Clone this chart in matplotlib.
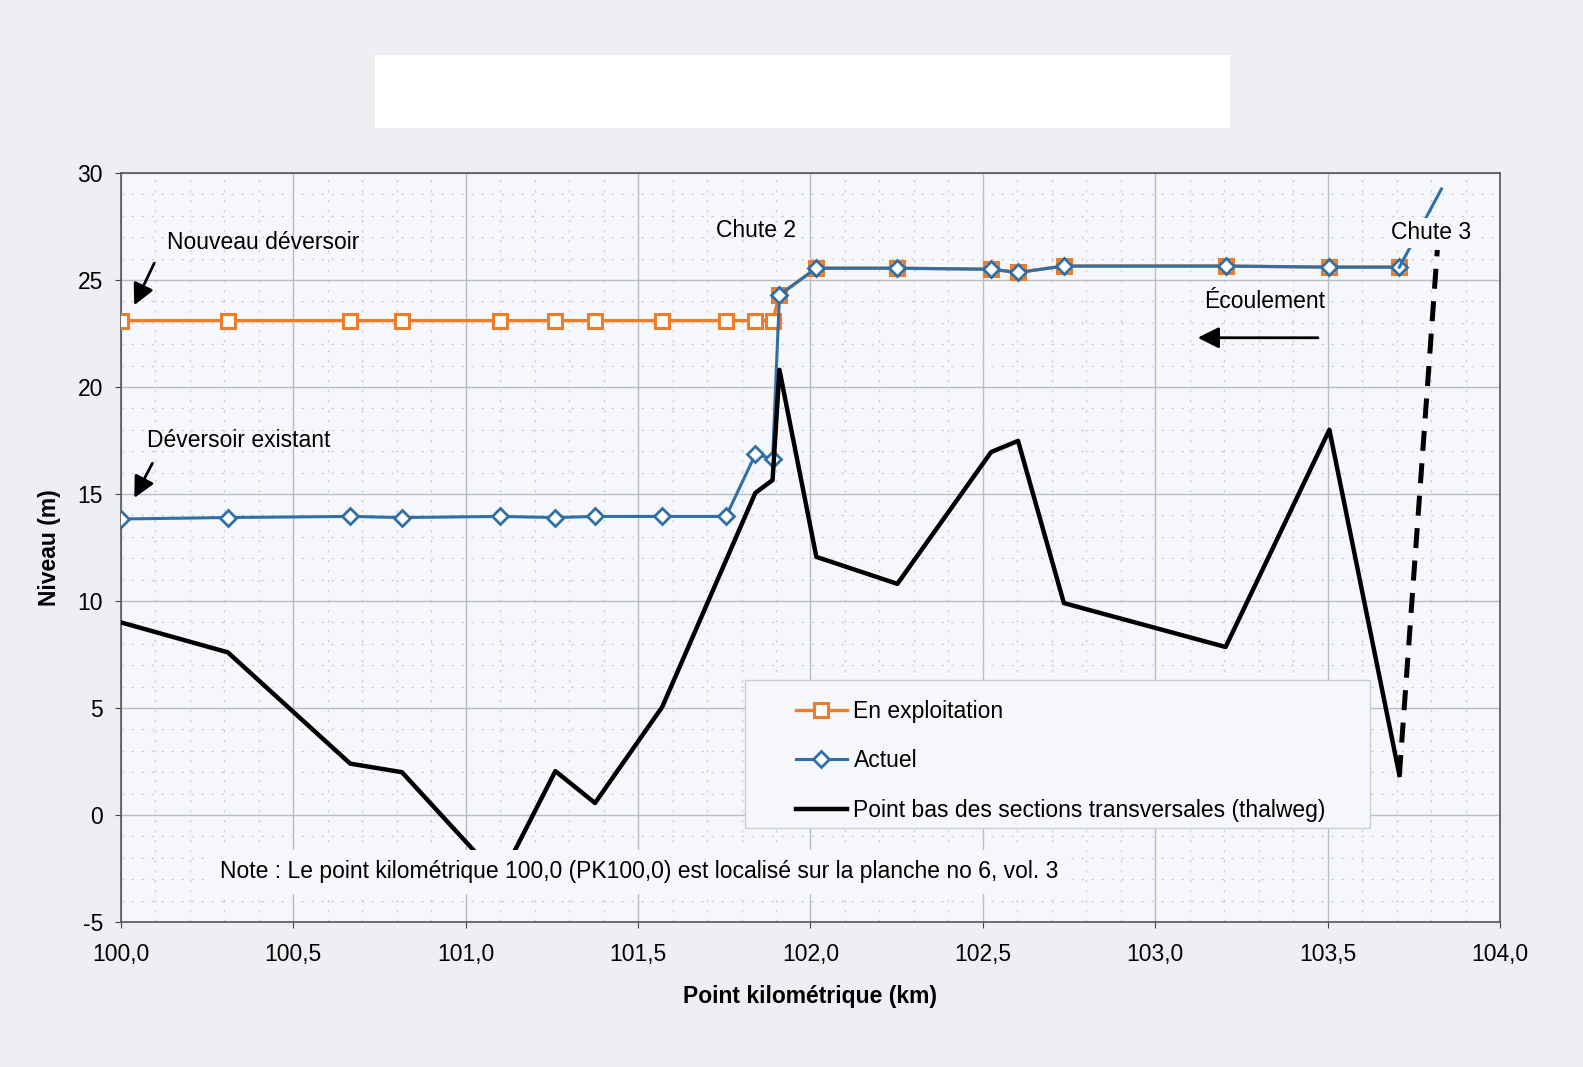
import matplotlib
matplotlib.use('Agg')
import matplotlib.pyplot as plt
from matplotlib.patches import Rectangle
from matplotlib.ticker import MultipleLocator, FuncFormatter

plt.rcParams['font.family'] = ['Liberation Sans', 'DejaVu Sans']
plt.rcParams['axes.unicode_minus'] = False

# Points de section (km)
pk_sections = [100.0, 100.31, 100.665, 100.815, 101.1, 101.26, 101.375, 101.57,
               101.755, 101.84, 101.89, 101.91, 102.017, 102.252, 102.524,
               102.602, 102.735, 103.204, 103.505, 103.708]

# Niveau en exploitation (nouveau déversoir)
niveau_exploitation = [23.1, 23.1, 23.1, 23.1, 23.1, 23.1, 23.1, 23.1,
                       23.1, 23.1, 23.1, 24.3, 25.55, 25.55, 25.5,
                       25.35, 25.65, 25.65, 25.6, 25.6]

# Niveau actuel (déversoir existant)
niveau_actuel = [13.83, 13.9, 13.95, 13.9, 13.95, 13.9, 13.95, 13.95,
                 13.95, 16.85, 16.65, 24.3, 25.55, 25.55, 25.5,
                 25.35, 25.65, 25.65, 25.6, 25.6]

# prolongement vers la chute 3 (sans marqueur)
pk_actuel_fin = [103.708, 103.83]
niveau_actuel_fin = [25.6, 29.25]

# Thalweg
pk_thalweg = [100.0, 100.31, 100.665, 100.815, 101.1, 101.26, 101.375, 101.57,
              101.84, 101.89, 101.91, 102.017, 102.252, 102.524, 102.602,
              102.735, 103.204, 103.505, 103.708]
niveau_thalweg = [9.0, 7.6, 2.4, 2.0, -3.0, 2.05, 0.56, 5.05,
                  15.05, 15.65, 20.8, 12.06, 10.8, 16.96, 17.48,
                  9.9, 7.85, 18.0, 1.87]

# Chute 3 (pointillé)
pk_chute3 = [103.708, 103.818]
niveau_chute3 = [1.87, 26.4]

orange = '#ee7d2b'
bleu = '#2f6fa6'
fond = '#f6f7fa'
fs = 16.5

fig = plt.figure(figsize=(15.83, 10.67), dpi=100, facecolor='#eeeff3')
ax = fig.add_axes([0.0764, 0.1359, 0.8712, 0.702])
ax.set_facecolor(fond)

# zone blanche du titre masqué
fig.patches.append(Rectangle((375 / 1583, 1 - 128 / 1067), 855 / 1583, 73 / 1067,
                             transform=fig.transFigure, facecolor='white',
                             edgecolor='none', zorder=0))

ax.set_xlim(100, 104)
ax.set_ylim(-5, 30)
ax.xaxis.set_major_locator(MultipleLocator(0.5))
ax.xaxis.set_minor_locator(MultipleLocator(0.1))
ax.yaxis.set_major_locator(MultipleLocator(5))
ax.yaxis.set_minor_locator(MultipleLocator(1))
ax.xaxis.set_major_formatter(FuncFormatter(lambda v, p: f"{v:.1f}".replace('.', ',')))
ax.yaxis.set_major_formatter(FuncFormatter(lambda v, p: f"{v:.0f}"))
ax.grid(True, which='major', color='#b8bcc4', linewidth=1.0, linestyle='-')
ax.grid(True, which='minor', color='#c8ccd4', linewidth=0.9, linestyle=(0, (2, 6)))
ax.set_axisbelow(True)
ax.tick_params(which='major', labelsize=fs, length=4, color='#444444')
ax.tick_params(axis='x', which='major', pad=11)
ax.tick_params(axis='y', which='major', pad=9)
ax.tick_params(which='minor', length=0)
for s in ax.spines.values():
    s.set_color('#555555')
    s.set_linewidth(1.2)

ax.plot(pk_sections, niveau_exploitation, color=orange, linewidth=2.4,
        marker='s', markersize=10, markerfacecolor='white',
        markeredgecolor=orange, markeredgewidth=2.2, label='En exploitation', zorder=3)
ax.plot(pk_sections, niveau_actuel, color=bleu, linewidth=2.2,
        marker='D', markersize=8, markerfacecolor='white',
        markeredgecolor=bleu, markeredgewidth=2.0, label='Actuel', zorder=4)
ax.plot(pk_actuel_fin, niveau_actuel_fin, color=bleu, linewidth=2.2, zorder=4)
ax.plot(pk_thalweg, niveau_thalweg, color='black', linewidth=3.2,
        label='Point bas des sections transversales (thalweg)', zorder=5)
ax.plot(pk_chute3, niveau_chute3, color='black', linewidth=3.6,
        linestyle=(0, (4, 2.5)), zorder=5)

ax.set_xlabel('Point kilométrique (km)', fontsize=fs, fontweight='bold', labelpad=14)
ax.set_ylabel('Niveau (m)', fontsize=fs, fontweight='bold', labelpad=12)

# annotations
fleche = dict(arrowstyle='-|>', color='black', lw=2.0, mutation_scale=32)
ax.annotate('', xy=(100.035, 23.7), xytext=(100.1, 25.9), arrowprops=fleche, zorder=6)
ax.text(100.133, 26.73, 'Nouveau déversoir', fontsize=fs, va='center', ha='left')
ax.annotate('', xy=(100.035, 14.7), xytext=(100.095, 16.55), arrowprops=fleche, zorder=6)
ax.text(100.075, 17.48, 'Déversoir existant', fontsize=fs, va='center', ha='left')
ax.text(101.725, 27.3, 'Chute 2', fontsize=fs, va='center', ha='left')
ax.text(103.684, 27.2, 'Chute 3', fontsize=fs, va='center', ha='left', zorder=7,
        bbox=dict(boxstyle='square,pad=0.15', facecolor=fond, edgecolor='none'))
ax.text(103.143, 24.0, 'Écoulement', fontsize=fs, va='center', ha='left')
ax.annotate('', xy=(103.115, 22.3), xytext=(103.48, 22.3), arrowprops=fleche, zorder=6)
ax.text(100.287, -2.66,
        'Note : Le point kilométrique 100,0 (PK100,0) est localisé sur la planche no 6, vol. 3',
        fontsize=fs, va='center', ha='left', zorder=7,
        bbox=dict(boxstyle='square,pad=0.45', facecolor=fond, edgecolor='none'))

# légende
ax.add_patch(Rectangle((0.4525, 0.1255), 0.4532, 0.1975, transform=ax.transAxes,
                       facecolor=fond, edgecolor='#c9cdd5', linewidth=1.0, zorder=6))
leg = ax.legend(loc='upper left', bbox_to_anchor=(0.478, 0.318), frameon=False,
                fontsize=fs, handlelength=2.2, handletextpad=0.3, labelspacing=1.15,
                borderpad=0.2)
leg.set_zorder(8)

fig.savefig('out.png', dpi=100, facecolor=fig.get_facecolor())
